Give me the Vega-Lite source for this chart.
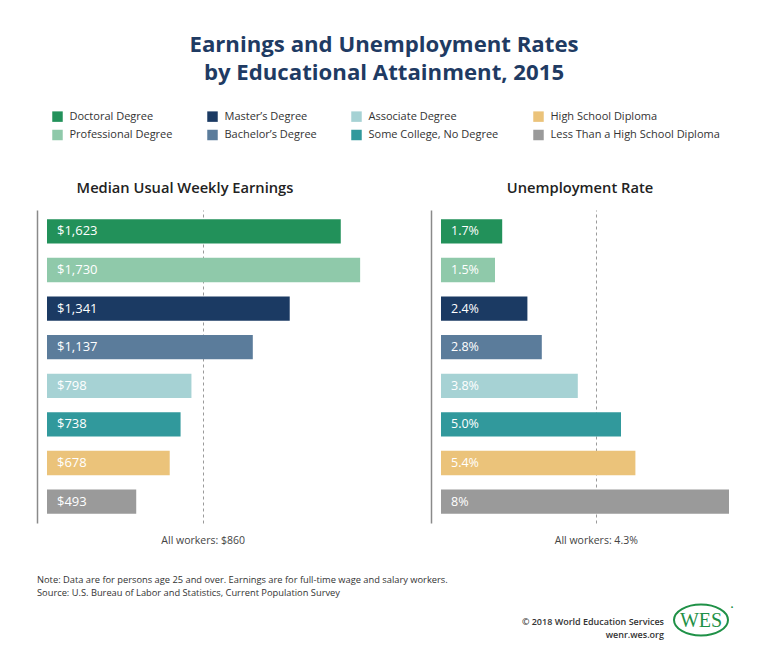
{
  "$schema": "https://vega.github.io/schema/vega-lite/v6.json",
  "autosize": {"type": "none"},
  "padding": {"left": 47, "top": 210, "right": 721, "bottom": 449},
  "background": "white",
  "data": {"values": [
    {"level": "Doctoral Degree", "earnings": 1623, "rate": 1.7, "rateLabel": "1.7%"},
    {"level": "Professional Degree", "earnings": 1730, "rate": 1.5, "rateLabel": "1.5%"},
    {"level": "Master’s Degree", "earnings": 1341, "rate": 2.4, "rateLabel": "2.4%"},
    {"level": "Bachelor’s Degree", "earnings": 1137, "rate": 2.8, "rateLabel": "2.8%"},
    {"level": "Associate Degree", "earnings": 798, "rate": 3.8, "rateLabel": "3.8%"},
    {"level": "Some College, No Degree", "earnings": 738, "rate": 5.0, "rateLabel": "5.0%"},
    {"level": "High School Diploma", "earnings": 678, "rate": 5.4, "rateLabel": "5.4%"},
    {"level": "Less Than a High School Diploma", "earnings": 493, "rate": 8.0, "rateLabel": "8%"}
  ]},
  "title": {
    "text": ["Earnings and Unemployment Rates", "by Educational Attainment, 2015"],
    "anchor": "middle", "frame": "group", "dx": 337, "offset": 27,
    "font": "Open Sans", "fontSize": 22.2, "fontWeight": 700, "color": "#1f3b63", "lineHeight": 28
  },
  "spacing": 390,
  "bounds": "flush",
  "vconcat": [
    {
      "spacing": 32,
      "bounds": "flush",
      "hconcat": [
        {
          "width": 362, "height": 313,
          "title": {"text": "Median Usual Weekly Earnings", "dx": -43, "offset": 14},
          "encoding": {
            "y": {"field": "level", "type": "nominal", "sort": null,
                  "scale": {"paddingInner": 0.37, "paddingOuter": 0.24},
                  "axis": {"labels": false, "ticks": false, "title": null, "grid": false, "domainColor": "#8a8a8a", "domainWidth": 1.5, "offset": 10}}
          },
          "layer": [
            {
              "mark": {"type": "bar"},
              "encoding": {
                "x": {"field": "earnings", "type": "quantitative", "scale": {"domain": [0, 2000], "nice": false},
                      "axis": {"values": [860], "grid": true, "gridDash": [3, 3], "gridColor": "#9a9a9a", "gridWidth": 1, "ticks": false, "domain": false, "title": null, "labelExpr": "'All workers: $' + datum.value", "labelPadding": 12}},
                "color": {"field": "level", "type": "nominal",
                  "scale": {"domain": ["Doctoral Degree", "Professional Degree", "Master’s Degree", "Bachelor’s Degree", "Associate Degree", "Some College, No Degree", "High School Diploma", "Less Than a High School Diploma"],
                            "range": ["#22915a", "#8fc9aa", "#1b3a63", "#5b7c9b", "#a6d2d4", "#31999c", "#ebc37a", "#9a9a9a"]},
                  "legend": {"orient": "none", "legendX": 5, "legendY": -99, "columns": 4, "title": null, "symbolType": "square", "symbolSize": 110, "symbolStrokeWidth": 0, "symbolOpacity": 1, "labelFont": "Open Sans", "labelFontSize": 11, "labelColor": "#333", "labelLimit": 300, "columnPadding": 34, "rowPadding": 6.5, "labelOffset": 6.5, "padding": 0}}
              }
            },
            {
              "mark": {"type": "text", "align": "left", "baseline": "middle", "dx": 10, "color": "white", "font": "Open Sans", "fontSize": 13, "fontWeight": 500},
              "encoding": {"x": {"datum": 0, "type": "quantitative"}, "text": {"field": "earnings", "type": "quantitative", "format": "$,d"}}
            }
          ]
        },
        {
          "width": 306, "height": 313,
          "title": {"text": "Unemployment Rate", "dx": -14, "offset": 14},
          "encoding": {
            "y": {"field": "level", "type": "nominal", "sort": null,
                  "scale": {"paddingInner": 0.37, "paddingOuter": 0.24},
                  "axis": {"labels": false, "ticks": false, "title": null, "grid": false, "domainColor": "#8a8a8a", "domainWidth": 1.5, "offset": 10}}
          },
          "layer": [
            {
              "mark": {"type": "bar"},
              "encoding": {
                "x": {"field": "rate", "type": "quantitative", "scale": {"domain": [0, 8.5], "nice": false},
                      "axis": {"values": [4.3], "grid": true, "gridDash": [3, 3], "gridColor": "#9a9a9a", "gridWidth": 1, "ticks": false, "domain": false, "title": null, "labelExpr": "'All workers: ' + datum.value + '%'", "labelPadding": 12}},
                "color": {"field": "level", "type": "nominal",
                  "scale": {"domain": ["Doctoral Degree", "Professional Degree", "Master’s Degree", "Bachelor’s Degree", "Associate Degree", "Some College, No Degree", "High School Diploma", "Less Than a High School Diploma"],
                            "range": ["#22915a", "#8fc9aa", "#1b3a63", "#5b7c9b", "#a6d2d4", "#31999c", "#ebc37a", "#9a9a9a"]},
                  "legend": {"orient": "none", "legendX": 5, "legendY": -99, "columns": 4, "title": null, "symbolType": "square", "symbolSize": 110, "symbolStrokeWidth": 0, "symbolOpacity": 1, "labelFont": "Open Sans", "labelFontSize": 11, "labelColor": "#333", "labelLimit": 300, "columnPadding": 34, "rowPadding": 6.5, "labelOffset": 6.5, "padding": 0}}
              }
            },
            {
              "mark": {"type": "text", "align": "left", "baseline": "middle", "dx": 10, "color": "white", "font": "Open Sans", "fontSize": 12.5, "fontWeight": 500},
              "encoding": {"x": {"datum": 0, "type": "quantitative"}, "text": {"field": "rateLabel", "type": "nominal"}}
            }
          ]
        }
      ]
    },
    {
      "spacing": 5,
      "bounds": "flush",
      "hconcat": [
        {
          "width": 617, "height": 40,
          "data": {"values": [{"credit": "© 2018 World Education Services\nwenr.wes.org"}]},
          "title": {
            "text": ["Note: Data are for persons age 25 and over. Earnings are for full-time wage and salary workers.", "Source: U.S. Bureau of Labor and Statistics, Current Population Survey"],
            "anchor": "start", "frame": "group", "dx": -10, "offset": 2,
            "font": "Open Sans", "fontSize": 9.3, "fontWeight": "normal", "color": "#333", "lineHeight": 13
          },
          "mark": {"type": "text", "align": "right", "baseline": "middle", "lineBreak": "\n", "lineHeight": 13, "dy": 2, "font": "Open Sans", "fontSize": 9, "fontWeight": 600, "color": "#333"},
          "encoding": {"x": {"value": "width"}, "text": {"field": "credit", "type": "nominal"}}
        },
        {
          "width": 64, "height": 40,
          "data": {"values": [{"brand": "WES"}]},
          "layer": [
            {"mark": {"type": "point", "shape": "M -1 0 A 1 0.574 0 1 1 1 0 A 1 0.574 0 1 1 -1 0 Z", "size": 2916, "filled": false, "stroke": "#1f9147", "strokeWidth": 2, "opacity": 1}, "encoding": {}},
            {"mark": {"type": "text", "font": "Liberation Serif", "fontSize": 20, "color": "#1f9147", "baseline": "middle", "dy": 1}, "encoding": {"text": {"field": "brand", "type": "nominal"}}},
            {"mark": {"type": "text", "text": "•", "font": "Open Sans", "fontSize": 8, "color": "#1f9147", "baseline": "middle", "dx": 31, "dy": -12}, "encoding": {}}
          ]
        }
      ]
    }
  ],
  "resolve": {"scale": {"color": "shared"}},
  "config": {
    "view": {"stroke": null},
    "font": "Open Sans",
    "title": {"font": "Open Sans", "fontSize": 14.7, "fontWeight": 600, "color": "#222"},
    "axis": {"labelFont": "Open Sans", "labelFontSize": 10.5, "labelColor": "#444"}
  }
}
